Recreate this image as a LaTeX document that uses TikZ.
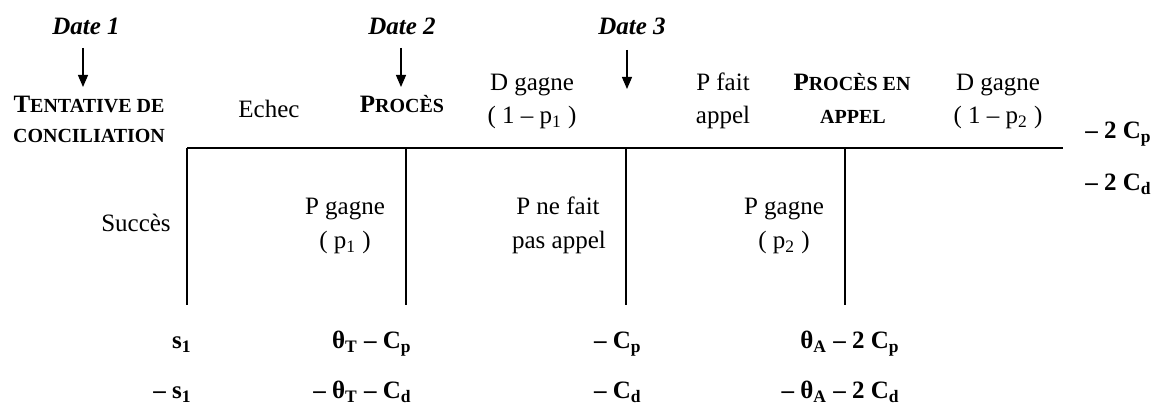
\documentclass[tikz,border=0pt]{standalone}
\usepackage{fontspec}
\setmainfont{Liberation Serif}
\usetikzlibrary{arrows.meta}
\newcommand{\petitcap}[1]{{\fontsize{10}{12}\selectfont #1}}

\begin{document}
\begin{tikzpicture}[>={Triangle[length=6pt,width=5pt]}, x=0.5pt, y=-0.5pt,
    txt/.style={anchor=base, inner sep=0pt, font=\fontsize{12.5}{15}\selectfont},
    titre/.style={txt, font=\fontsize{12.5}{15}\selectfont\bfseries},
    date/.style={txt, font=\fontsize{12.5}{15}\selectfont\bfseries\itshape},
    gain/.style={txt, anchor=base east, font=\fontsize{12.5}{15}\selectfont\bfseries},
    trait/.style={line width=0.8pt}]
    \useasboundingbox (0,0) rectangle (1152,405);

    % Dates et flèches
    \node[date] (d1) at (86,35) {Date 1};
    \node[date] (d2) at (402,35) {Date 2};
    \node[date] (d3) at (632,35) {Date 3};
    \coordinate (f1a) at (83,48);  \coordinate (f1b) at (83,87);
    \coordinate (f2a) at (401,48); \coordinate (f2b) at (401,87);
    \coordinate (f3a) at (627,50); \coordinate (f3b) at (627,89);
    \draw[->, line width=0.6pt] (f1a) -- (f1b);
    \draw[->, line width=0.6pt] (f2a) -- (f2b);
    \draw[->, line width=0.6pt] (f3a) -- (f3b);

    % Étapes du haut
    \node[titre] (tent) at (89,113) {T\petitcap{ENTATIVE DE}};
    \node[titre] (conc) at (89,143) {\petitcap{CONCILIATION}};
    \node[txt] (echec) at (269,118) {Echec};
    \node[titre] (proces) at (402,113) {P\petitcap{ROCÈS}};
    \node[txt] (dg1) at (532,91) {D gagne};
    \node[txt] (dg1p) at (532,124) {( 1 – p\textsubscript{1} )};
    \node[txt] (pfa) at (723,91) {P fait};
    \node[txt] (pfab) at (723,124) {appel};
    \node[titre] (pa) at (852,91) {P\petitcap{ROCÈS EN}};
    \node[titre] (pab) at (853,124) {\petitcap{APPEL}};
    \node[txt] (dg2) at (998,91) {D gagne};
    \node[txt] (dg2p) at (998,124) {( 1 – p\textsubscript{2} )};

    % Lignes de l'arbre
    \coordinate (o) at (187,148);
    \coordinate (fin) at (1063,148);
    \draw[trait] (o) -- (fin);
    \foreach \x in {187,406,626,845}
        \draw[trait] (\x,148) -- (\x,305);

    % Branches du bas
    \node[txt] (succ) at (136,232) {Succès};
    \node[txt] (pg1) at (345,215) {P gagne};
    \node[txt] (pg1p) at (345,249) {( p\textsubscript{1} )};
    \node[txt] (pnf) at (558,215) {P ne fait};
    \node[txt] (pnfb) at (559,249) {pas appel};
    \node[txt] (pg2) at (784,215) {P gagne};
    \node[txt] (pg2p) at (784,249) {( p\textsubscript{2} )};

    % Gains
    \node[gain, anchor=base west] (g0p) at (1085,139) {– 2 C\textsubscript{p}};
    \node[gain, anchor=base west] (g0d) at (1085,191) {– 2 C\textsubscript{d}};
    \node[gain] (g1p) at (192,349) {s\textsubscript{1}};
    \node[gain] (g1d) at (192,399) {– s\textsubscript{1}};
    \node[gain] (g2p) at (412,349) {θ\textsubscript{T} – C\textsubscript{p}};
    \node[gain] (g2d) at (412,399) {– θ\textsubscript{T} – C\textsubscript{d}};
    \node[gain] (g3p) at (642,349) {– C\textsubscript{p}};
    \node[gain] (g3d) at (642,399) {– C\textsubscript{d}};
    \node[gain] (g4p) at (900,349) {θ\textsubscript{A} – 2 C\textsubscript{p}};
    \node[gain] (g4d) at (900,399) {– θ\textsubscript{A} – 2 C\textsubscript{d}};
\end{tikzpicture}
\end{document}
